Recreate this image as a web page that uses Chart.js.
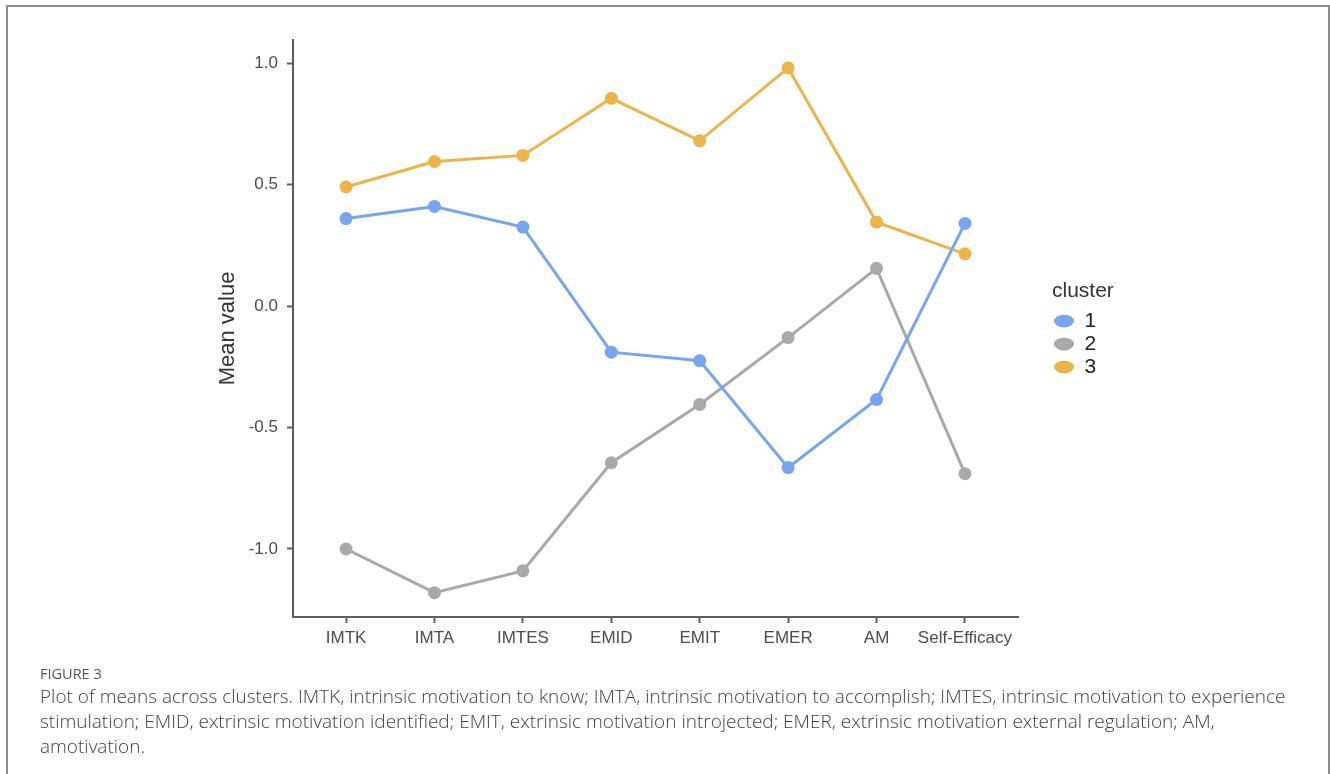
<!DOCTYPE html>
<html>
<head>
<meta charset="utf-8">
<script src="https://cdn.jsdelivr.net/npm/chart.js@4"></script>
<style>
  body { margin: 0; background: #fff; width: 1330px; height: 774px; overflow: hidden; position: relative; }
  #frame { position: absolute; left: 6px; top: 5px; width: 1320px; height: 800px; border: 2px solid #8c8c8c; border-bottom: none; }
  #plot { position: absolute; left: 7px; top: 6px; }
  #caption { position: absolute; left: 40px; top: 663px; font-family: "Open Sans", sans-serif; color: #3f3f3f; white-space: nowrap; }
  #caption .fig { font-size: 14.5px; color: #555; line-height: 21px; }
  #caption .txt { font-size: 19px; line-height: 25px; font-weight: 300; }
</style>
</head>
<body>
<div id="frame"></div>
<canvas id="plot" width="1320" height="660"></canvas>
<div id="caption">
  <div class="fig">FIGURE 3</div>
  <div class="txt">Plot of means across clusters. IMTK, intrinsic motivation to know; IMTA, intrinsic motivation to accomplish; IMTES, intrinsic motivation to experience<br>stimulation; EMID, extrinsic motivation identified; EMIT, extrinsic motivation introjected; EMER, extrinsic motivation external regulation; AM,<br>amotivation.</div>
</div>
<script>
// values
const categories = ["IMTK", "IMTA", "IMTES", "EMID", "EMIT", "EMER", "AM", "Self-Efficacy"];
const cluster1 = [0.36, 0.41, 0.325, -0.19, -0.225, -0.665, -0.385, 0.34];
const cluster2 = [-1.0, -1.18, -1.09, -0.645, -0.405, -0.13, 0.155, -0.69];
const cluster3 = [0.49, 0.595, 0.62, 0.855, 0.68, 0.98, 0.345, 0.215];
const clusterNames = ["1", "2", "3"];
const clusterColors = ["#78a6ee", "#a9a9a9", "#ebb54b"];
const yTicks = [-1.0, -0.5, 0.0, 0.5, 1.0];

const axisColor = "#5e5e5e";
const labelFamily = "Liberation Sans, Arial, sans-serif";
const tickFont = { family: labelFamily, size: 17 };
const legendWidth = 175;

function series(vals) {
  return vals.map((v, i) => ({ x: i, y: v }));
}

const datasets = [cluster1, cluster2, cluster3].map((vals, k) => ({
  label: clusterNames[k],
  data: series(vals),
  borderColor: clusterColors[k],
  backgroundColor: clusterColors[k],
  borderWidth: 3,
  pointRadius: 6.5,
  pointBorderWidth: 0,
  pointStyle: "circle",
  tension: 0
}));

// legend box is sized from its items only, so the title got clipped; give it a fixed width
const widenLegend = {
  id: "widenLegend",
  beforeLayout(chart) {
    const lg = chart.legend;
    if (lg && !lg._widened) {
      const fit = lg.fit;
      lg.fit = function () { fit.call(this); this.width = legendWidth; };
      lg._widened = true;
    }
  }
};

new Chart(document.getElementById("plot").getContext("2d"), {
  type: "line",
  data: { datasets },
  plugins: [widenLegend],
  options: {
    responsive: false,
    animation: false,
    layout: { padding: { top: 34, left: 204, right: 100, bottom: 9 } },
    plugins: {
      tooltip: { enabled: false },
      legend: {
        position: "right",
        fullSize: false,
        title: {
          display: true, text: "cluster", position: "start",
          color: "#333", font: { family: labelFamily, size: 21 },
          padding: { top: 3, bottom: 3 }
        },
        labels: {
          usePointStyle: true, pointStyleWidth: 20, boxHeight: 9, padding: 2,
          color: "#222", font: { family: labelFamily, size: 21 }
        }
      }
    },
    scales: {
      x: {
        type: "linear", min: -0.6, max: 7.6,
        afterBuildTicks: s => { s.ticks = categories.map((c, i) => ({ value: i })); },
        afterFit: s => { s.height = 40; },
        ticks: { callback: v => categories[v], color: "#4d4d4d", font: tickFont, padding: 5, maxRotation: 0, autoSkip: false },
        grid: { drawOnChartArea: false, tickLength: 6, tickColor: axisColor, tickWidth: 2 },
        border: { color: axisColor, width: 2 }
      },
      y: {
        min: -1.28, max: 1.095,
        afterBuildTicks: s => { s.ticks = yTicks.map(v => ({ value: v })); },
        afterFit: s => { s.width = 82; },
        ticks: { callback: v => v.toFixed(1), color: "#4d4d4d", font: tickFont, padding: 9 },
        grid: { drawOnChartArea: false, tickLength: 6, tickColor: axisColor, tickWidth: 2 },
        border: { color: axisColor, width: 2 },
        title: { display: true, text: "Mean value", color: "#333", font: { family: labelFamily, size: 22 } }
      },
      gap: {
        type: "linear", position: "right", display: true,
        grid: { display: false }, border: { display: false }, ticks: { display: false },
        afterFit: s => { s.width = 34; }
      }
    }
  }
});
</script>
</body>
</html>
